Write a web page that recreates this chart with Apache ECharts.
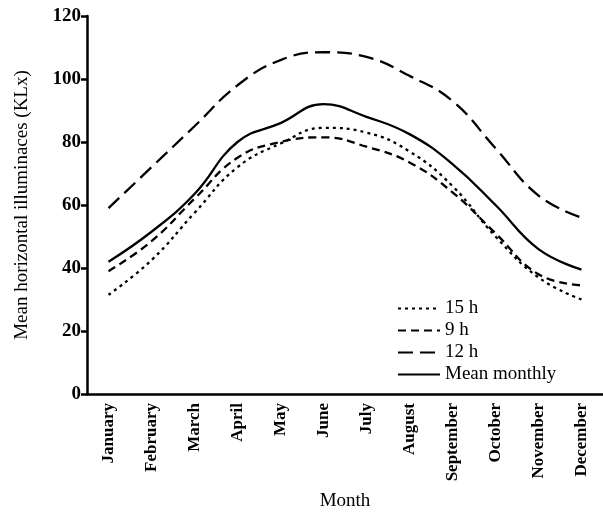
<!DOCTYPE html>
<html>
<head>
<meta charset="utf-8">
<script src="https://cdn.jsdelivr.net/npm/echarts@6/dist/echarts.min.js"></script>
<style>
  html, body { margin: 0; padding: 0; background: #fff; }
  #chart { width: 603px; height: 516px; }
</style>
</head>
<body>
<div id="chart"></div>
<script>
// months on the x axis
const months = ['January', 'February', 'March', 'April', 'May', 'June',
  'July', 'August', 'September', 'October', 'November', 'December'];

// mean horizontal illuminance, KLx
const h15 = [31.5, 42.5, 57.5, 72, 79.5, 84.5, 83, 77, 66, 50, 37, 30];
const h9 = [39, 48.5, 62, 75, 80, 81.5, 78.5, 73.5, 64, 51, 38, 34.5];
const h12 = [59, 72, 85, 98, 106, 108.5, 107, 101, 93, 78, 63, 56];
const meanMonthly = [42, 51.5, 63.5, 80, 86, 92, 88, 82.5, 73, 60, 46, 39.5];

const yTicks = [0, 20, 40, 60, 80, 100, 120];

const font = 'Liberation Serif';

const chart = echarts.init(document.getElementById('chart'), null, { renderer: 'canvas' });

function line(name, data, type) {
  return {
    name: name,
    type: 'line',
    data: data,
    smooth: 0.45,
    symbol: 'none',
    lineStyle: { color: '#000', width: 2.3, type: type },
    itemStyle: { color: '#000' }
  };
}

chart.setOption({
  animation: false,
  backgroundColor: '#fff',
  grid: { left: 87, right: -8, top: 16, bottom: 121 },
  legend: {
    orient: 'vertical',
    left: 392,
    top: 294,
    itemWidth: 42,
    itemHeight: 12,
    itemGap: 3,
    itemStyle: { opacity: 0 },
    textStyle: { fontFamily: font, fontSize: 19, color: '#000' },
    data: ['15 h', '9 h', '12 h', 'Mean monthly']
  },
  xAxis: {
    type: 'category',
    data: months,
    boundaryGap: true,
    name: 'Month',
    nameLocation: 'middle',
    nameGap: 98,
    nameTextStyle: { fontFamily: font, fontSize: 19, color: '#000' },
    axisLine: { lineStyle: { color: '#000', width: 2.5 } },
    axisTick: { alignWithLabel: false, length: 6, lineStyle: { color: '#000', width: 2.5 } },
    axisLabel: {
      rotate: 90, margin: 9, fontFamily: font, fontSize: 17,
      fontWeight: 'bold', color: '#000', interval: 0
    },
    splitLine: { show: false }
  },
  yAxis: {
    type: 'value',
    min: yTicks[0],
    max: yTicks[yTicks.length - 1],
    interval: 20,
    name: 'Mean horizontal illuminaces (KLx)',
    nameLocation: 'middle',
    nameGap: 55,
    nameRotate: 90,
    nameTextStyle: { fontFamily: font, fontSize: 19, color: '#000' },
    axisLine: { show: true, lineStyle: { color: '#000', width: 2.5 } },
    axisTick: { show: true, length: 6, lineStyle: { color: '#000', width: 2.5 } },
    axisLabel: { margin: 6, fontFamily: font, fontSize: 19, fontWeight: 'bold', color: '#000' },
    splitLine: { show: false }
  },
  series: [
    line('15 h', h15, [3, 4]),
    line('9 h', h9, [8, 5]),
    line('12 h', h12, [15, 7]),
    line('Mean monthly', meanMonthly, 'solid')
  ]
});
</script>
</body>
</html>
